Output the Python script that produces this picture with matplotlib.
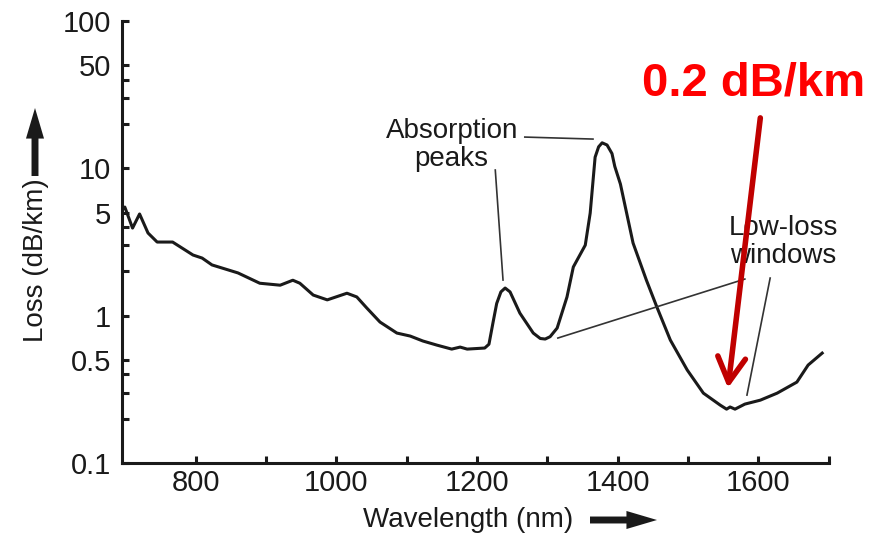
import numpy as np
import matplotlib
matplotlib.use("Agg")
import matplotlib.pyplot as plt
from matplotlib.ticker import FixedLocator, NullFormatter

plt.rcParams['font.family'] = ['Liberation Sans', 'DejaVu Sans']

# fibre attenuation curve
wavelength = [695, 699, 710, 720, 732, 745, 767, 796, 809, 823, 860, 891, 920, 938, 948,
              967, 987, 1015, 1029, 1043, 1062, 1086, 1105, 1123, 1143, 1164, 1176, 1186,
              1211, 1217, 1223, 1228, 1234, 1240, 1247, 1261, 1280, 1290, 1297, 1304, 1314,
              1328, 1337, 1354, 1361, 1368, 1373, 1378, 1385, 1392, 1396, 1404, 1422, 1441,
              1456, 1475, 1499, 1522, 1546, 1555, 1560, 1567, 1581, 1603, 1627, 1655, 1671,
              1691]
loss = [5.21, 5.46, 3.93, 4.90, 3.64, 3.16, 3.16, 2.58, 2.46, 2.21, 1.95, 1.66, 1.61, 1.74, 1.66,
        1.38, 1.28, 1.42, 1.34, 1.13, 0.905, 0.762, 0.727, 0.673, 0.631, 0.593, 0.612, 0.593,
        0.603, 0.64, 0.91, 1.21, 1.45, 1.54, 1.45, 1.04, 0.762, 0.70, 0.694, 0.72, 0.824,
        1.34, 2.14, 3.01, 4.97, 11.9, 14.0, 14.9, 14.4, 12.6, 10.3, 7.82, 3.11, 1.74,
        1.14, 0.683, 0.428, 0.298, 0.247, 0.232, 0.240, 0.232, 0.251, 0.267, 0.298, 0.354, 0.462,
        0.557]

x_major = [800, 1000, 1200, 1400, 1600]
x_minor = [900, 1100, 1300, 1500, 1700]
y_major = [0.1, 0.5, 1, 5, 10, 50, 100]
y_labels = ['0.1', '0.5', '1', '5', '10', '50', '100']
y_minor = [0.2, 0.3, 0.4, 2, 3, 4, 20, 30, 40]

ink = '#1a1a1a'
fig = plt.figure(figsize=(8.83, 5.38), dpi=100)
ax = fig.add_axes([122/883, 1 - 463/538, 706.5/883, 442/538])

ax.plot(wavelength, loss, color=ink, lw=2.2, solid_joinstyle='round')
ax.set_yscale('log')
ax.set_xlim(695, 1700)
ax.set_ylim(0.1, 100)

ax.xaxis.set_major_locator(FixedLocator(x_major))
ax.xaxis.set_minor_locator(FixedLocator(x_minor))
ax.yaxis.set_major_locator(FixedLocator(y_major))
ax.set_yticklabels(y_labels)
ax.yaxis.set_minor_locator(FixedLocator(y_minor))
ax.yaxis.set_minor_formatter(NullFormatter())

for s in ['top', 'right']:
    ax.spines[s].set_visible(False)
for s in ['left', 'bottom']:
    ax.spines[s].set_linewidth(2.2)
    ax.spines[s].set_color(ink)
ax.tick_params(which='both', direction='in', length=5, width=2.2, color=ink,
               labelsize=21, labelcolor=ink)
ax.tick_params(axis='x', pad=4)
ax.tick_params(axis='y', pad=8)

# axis titles with arrows
fig.text(468/883, 1 - 520/538, 'Wavelength (nm)', ha='center', va='center',
         fontsize=20, color=ink)
fig.text(36/883, 1 - 260/538, 'Loss (dB/km)', ha='center', va='center',
         rotation=90, fontsize=20, color=ink)
arrow = dict(arrowstyle='simple,head_length=2.2,head_width=1.3,tail_width=0.5',
             lw=0, color=ink, shrinkA=0, shrinkB=0, mutation_scale=10)
ax.annotate('', xy=(657/883, 1 - 520/538), xytext=(590/883, 1 - 520/538),
            xycoords='figure fraction', textcoords='figure fraction', arrowprops=arrow)
ax.annotate('', xy=(35/883, 1 - 108/538), xytext=(35/883, 1 - 176/538),
            xycoords='figure fraction', textcoords='figure fraction', arrowprops=arrow)

# callouts
ax.text(1164, 14.4, 'Absorption\npeaks', ha='center', va='center', fontsize=20,
        color=ink, linespacing=1.1)
ax.text(1636, 3.16, 'Low-loss\nwindows', ha='center', va='center', fontsize=20,
        color=ink, linespacing=1.1)
thin = dict(color='#333333', lw=1.2)
ax.plot([1268, 1365], [16.3, 15.8], **thin)
ax.plot([1226, 1237], [9.74, 1.745], **thin)
ax.plot([1581, 1315], [1.772, 0.705], **thin)
ax.plot([1617, 1584], [1.80, 0.289], **thin)

ax.annotate('', xy=(1557, 0.3225), xytext=(1603, 22.0),
            arrowprops=dict(arrowstyle='->,head_length=0.9,head_width=0.5', lw=4,
                            color='#c00000', shrinkA=0, shrinkB=0, mutation_scale=20))
ax.text(1594, 37.9, '0.2 dB/km', ha='center', va='center', fontsize=34,
        fontweight='bold', color='#ff0000')

fig.savefig('out.png', dpi=100)
